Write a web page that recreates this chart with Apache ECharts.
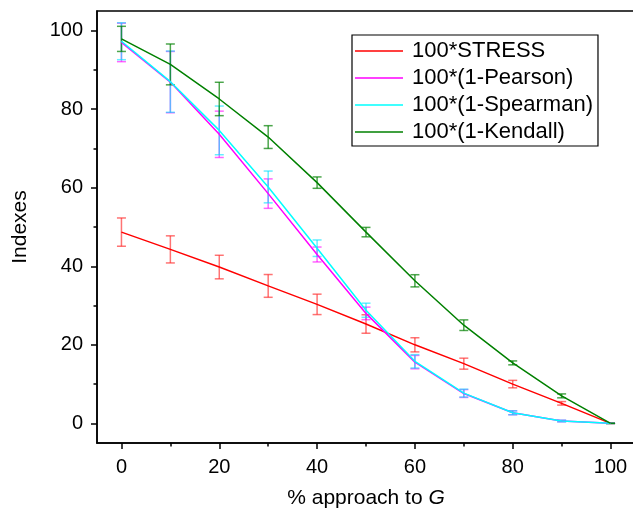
<!DOCTYPE html>
<html>
<head>
<meta charset="utf-8">
<script src="https://cdn.jsdelivr.net/npm/echarts@6/dist/echarts.min.js"></script>
<style>
  html, body { margin: 0; padding: 0; background: #fff; }
  #chart { width: 633px; height: 509px; }
</style>
</head>
<body>
<div id="chart"></div>
<script>
var approach = [0, 10, 20, 30, 40, 50, 60, 70, 80, 90, 100];

var stress = [48.7, 44.3, 39.8, 35.0, 30.3, 25.3, 20.0, 15.2, 10.0, 5.1, 0];
var stressErr = [3.6, 3.45, 3.0, 2.9, 2.6, 2.35, 1.8, 1.4, 0.95, 0.45, 0];

var pearson = [97.0, 86.9, 73.6, 58.5, 43.0, 28.0, 15.6, 7.6, 2.7, 0.6, 0];
var pearsonErr = [4.9, 7.8, 5.9, 3.75, 1.9, 1.6, 1.7, 1.0, 0.5, 0.2, 0];

var spearman = [97.3, 87.0, 74.6, 60.2, 44.6, 28.8, 15.8, 7.7, 2.7, 0.6, 0];
var spearmanErr = [4.7, 7.8, 6.2, 4.05, 2.1, 1.8, 1.7, 1.0, 0.5, 0.2, 0];

var kendall = [97.9, 91.4, 82.6, 72.9, 61.3, 48.7, 36.3, 25.0, 15.4, 7.0, 0];
var kendallErr = [3.2, 5.2, 4.25, 2.9, 1.45, 1.2, 1.55, 1.35, 0.5, 0.5, 0];

var majorTicks = [0, 20, 40, 60, 80, 100];
var minorTicks = [10, 30, 50, 70, 90];

var names = ['100*STRESS', '100*(1-Pearson)', '100*(1-Spearman)', '100*(1-Kendall)'];
var lineColors = ['#ff0000', '#ff00ff', '#00ffff', '#008000'];
var barColors = ['rgba(255,40,40,0.65)', 'rgba(255,0,255,0.6)', 'rgba(0,225,255,0.6)', 'rgba(0,128,0,0.7)'];

function pairs(ys) {
	return approach.map(function (x, i) { return [x, ys[i]]; });
}

function ranges(ys, errs) {
	return approach.map(function (x, i) { return [x, ys[i] - errs[i], ys[i] + errs[i]]; });
}

function renderErr(params, api) {
	var x = api.value(0);
	var lo = api.coord([x, api.value(1)]);
	var hi = api.coord([x, api.value(2)]);
	var w = 4.5;
	var style = { stroke: api.visual('color'), lineWidth: 1.5 };
	return {
		type: 'group',
		children: [
			{ type: 'line', shape: { x1: lo[0], y1: lo[1], x2: hi[0], y2: hi[1] }, style: style },
			{ type: 'line', shape: { x1: lo[0] - w, y1: lo[1], x2: lo[0] + w, y2: lo[1] }, style: style },
			{ type: 'line', shape: { x1: hi[0] - w, y1: hi[1], x2: hi[0] + w, y2: hi[1] }, style: style }
		]
	};
}

var font = 'Arial, "Liberation Sans", sans-serif';
var values = [stress, pearson, spearman, kendall];
var errs = [stressErr, pearsonErr, spearmanErr, kendallErr];

var series = [];
values.forEach(function (v, k) {
	series.push({
		name: names[k] + ' err',
		type: 'custom',
		renderItem: renderErr,
		itemStyle: { color: barColors[k] },
		encode: { x: 0, y: [1, 2] },
		data: ranges(v, errs[k]),
		z: 2,
		silent: true
	});
});
values.forEach(function (v, k) {
	series.push({
		name: names[k],
		type: 'line',
		data: pairs(v),
		symbol: 'none',
		color: lineColors[k],
		lineStyle: { width: 1.5, color: lineColors[k] },
		z: 3,
		silent: true
	});
});

var axisCommon = {
	type: 'value',
	min: -5,
	max: 105,
	splitLine: { show: false }
};

var chart = echarts.init(document.getElementById('chart'));
chart.setOption({
	animation: false,
	backgroundColor: '#fff',
	grid: {
		left: 97,
		top: 11,
		width: 538,
		height: 432,
		show: true,
		borderColor: '#000',
		borderWidth: 1.5,
		containLabel: false,
		outerBoundsMode: 'none'
	},
	legend: {
		data: names,
		orient: 'vertical',
		left: 352,
		top: 35,
		padding: [5, 5, 3, 3],
		itemGap: 5,
		itemWidth: 48,
		itemHeight: 1.5,
		icon: 'rect',
		borderColor: '#000',
		borderWidth: 1.2,
		textStyle: { fontSize: 22, fontFamily: font, color: '#000', lineHeight: 20, padding: [0, 0, 0, 4] }
	},
	xAxis: [
		Object.assign({}, axisCommon, {
			position: 'bottom',
			name: '% approach to {i|G}',
			nameLocation: 'middle',
			nameGap: 45,
			nameTextStyle: {
				fontSize: 21, fontFamily: font, color: '#000',
				rich: { i: { fontSize: 21, fontFamily: font, fontStyle: 'italic', color: '#000' } }
			},
			axisLine: { onZero: false, lineStyle: { color: '#000', width: 1.5 } },
			axisTick: { customValues: majorTicks, length: 6, lineStyle: { color: '#000', width: 1.5 } },
			axisLabel: { customValues: majorTicks, fontSize: 20, fontFamily: font, color: '#000', margin: 14 }
		}),
		Object.assign({}, axisCommon, {
			position: 'bottom',
			axisLine: { show: false, onZero: false },
			axisTick: { customValues: minorTicks, length: 3.5, lineStyle: { color: '#000', width: 1.5 } },
			axisLabel: { show: false }
		})
	],
	yAxis: [
		Object.assign({}, axisCommon, {
			position: 'left',
			name: 'Indexes',
			nameLocation: 'middle',
			nameGap: 66,
			nameTextStyle: { fontSize: 21, fontFamily: font, color: '#000' },
			axisLine: { onZero: false, lineStyle: { color: '#000', width: 1.5 } },
			axisTick: { customValues: majorTicks, length: 6, lineStyle: { color: '#000', width: 1.5 } },
			axisLabel: { customValues: majorTicks, fontSize: 20, fontFamily: font, color: '#000', margin: 14 }
		}),
		Object.assign({}, axisCommon, {
			position: 'left',
			axisLine: { show: false, onZero: false },
			axisTick: { customValues: minorTicks, length: 3.5, lineStyle: { color: '#000', width: 1.5 } },
			axisLabel: { show: false }
		})
	],
	series: series
});
</script>
</body>
</html>
